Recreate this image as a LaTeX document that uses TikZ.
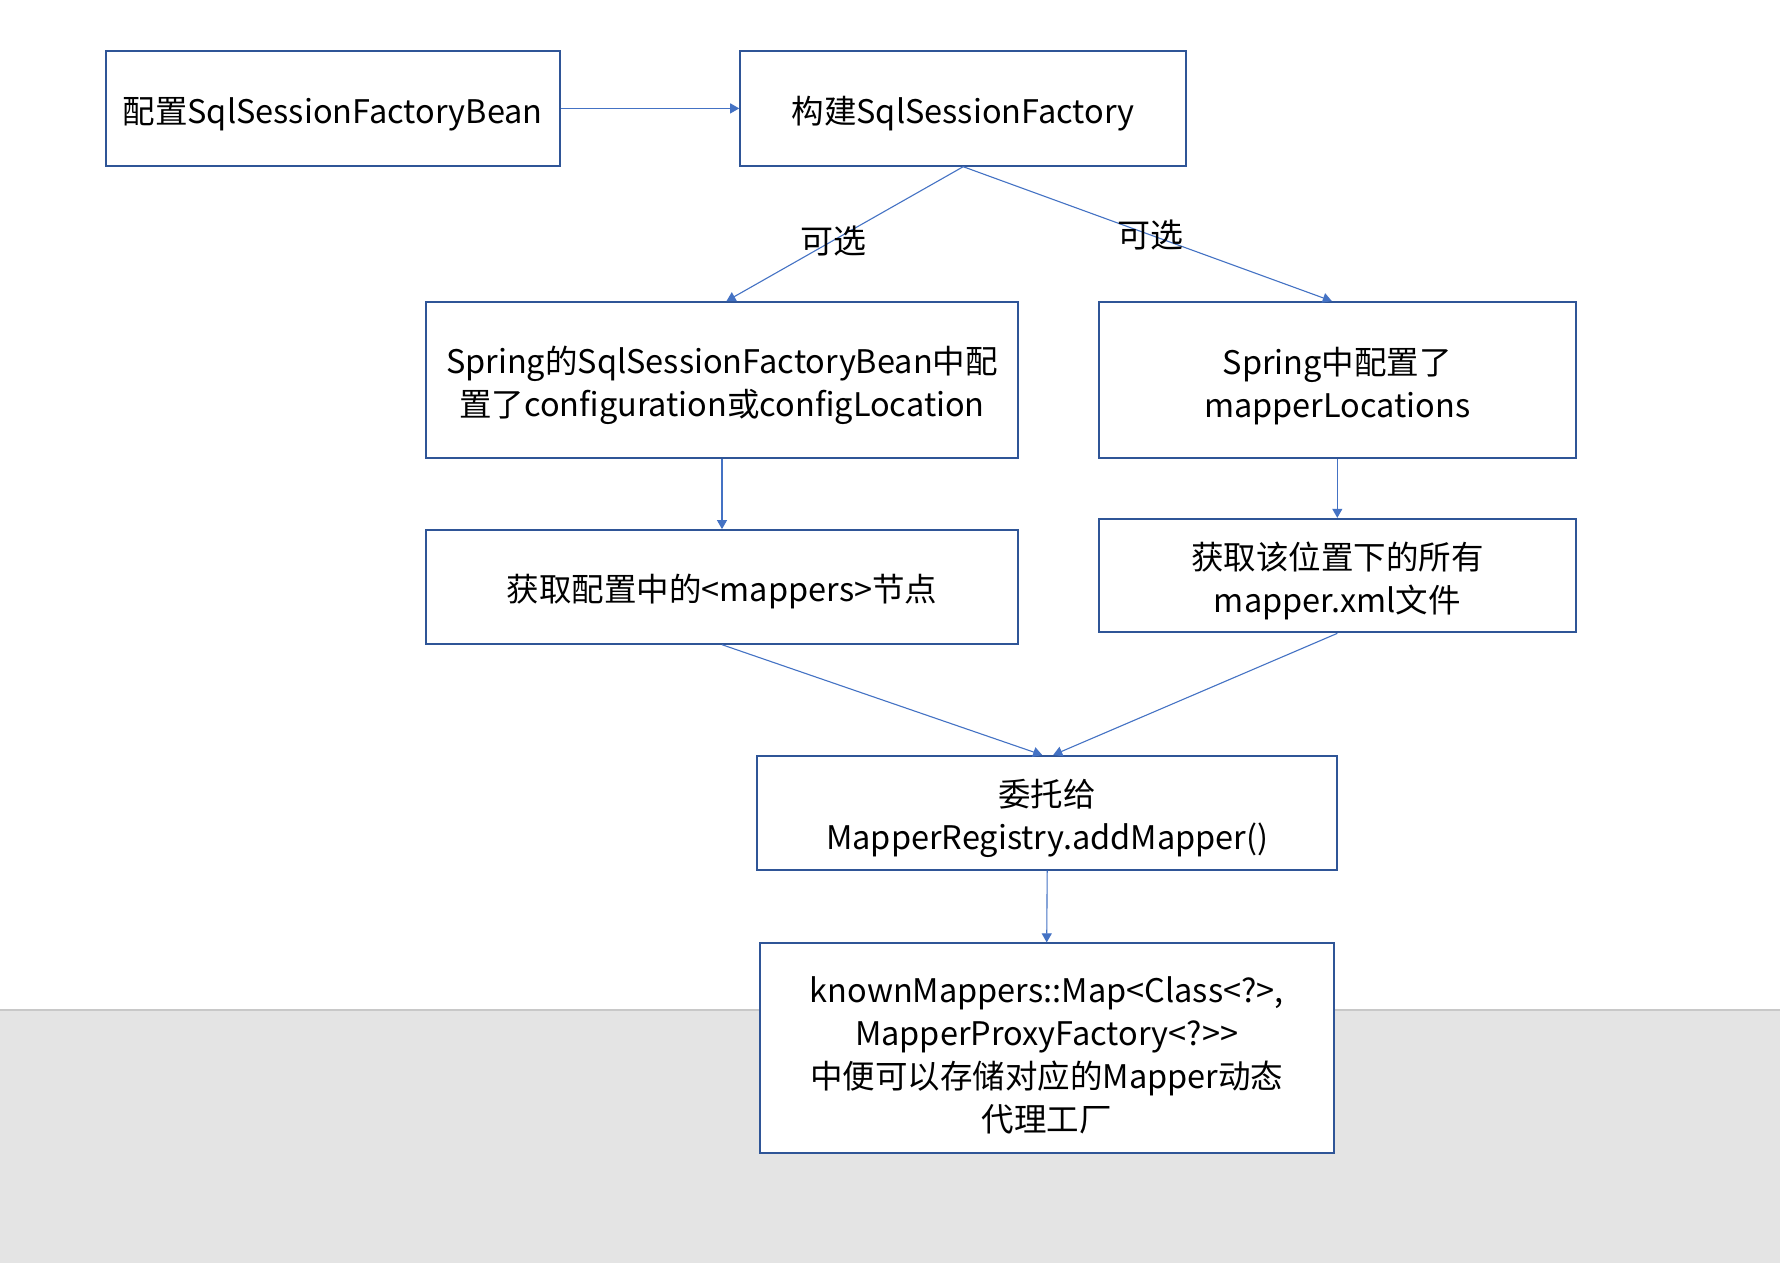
\documentclass[tikz,border=0pt]{standalone}
\usepackage{fontspec}
\setmainfont{Noto Sans CJK SC}
\usetikzlibrary{arrows.meta}
\definecolor{boxblue}{HTML}{2F5597}
\definecolor{lineblue}{HTML}{4472C4}
\definecolor{graybg}{HTML}{E4E4E4}
\definecolor{grayline}{HTML}{C8C8C8}
\newcommand{\firststrut}{\rule{0pt}{39pt}}
\tikzset{
  x=1pt, y=-1pt,
  box/.style={draw=boxblue, line width=2pt, fill=white, align=center, inner sep=0pt,
    font=\fontsize{32.5}{43}\selectfont, execute at begin node={\rule{0pt}{37pt}}},
  conn/.style={draw=lineblue, line width=1.1pt, -{Triangle[width=10pt,length=9pt]}},
  lbl/.style={font=\fontsize{33}{36}\selectfont, inner sep=0pt}
}
\begin{document}
\begin{tikzpicture}
\useasboundingbox (0,0) rectangle (1780,1263);
\fill[white] (0,0) rectangle (1780,1263);
\fill[graybg] (0,1010) rectangle (1780,1263);
\draw[grayline, line width=1.5pt] (0,1010) -- (1780,1010);

\node[box, minimum width=454, minimum height=114.6] (b1) at (332.6,108.4) {配置SqlSessionFactoryBean};
\node[box, minimum width=446, minimum height=114.6] (b2) at (963.2,108.4) {构建SqlSessionFactory};
\node[box, minimum width=592.6, minimum height=155.5] (b3) at (722,379.8) {\firststrut Spring的SqlSessionFactoryBean中配\\置了configuration或configLocation};
\node[box, minimum width=476.8, minimum height=155.5] (b4) at (1337.3,379.8) {\firststrut Spring中配置了\\mapperLocations};
\node[box, minimum width=592.6, minimum height=113.6] (b5) at (722,586.9) {获取配置中的<mappers>节点};
\node[box, minimum width=476.8, minimum height=113.5] (b6) at (1337.3,575.6) {\firststrut 获取该位置下的所有\\mapper.xml文件};
\node[box, minimum width=580.1, minimum height=113.6] (b7) at (1047.2,812.8) {\firststrut 委托给\\MapperRegistry.addMapper()};
\node[box, minimum width=574.4, minimum height=210] (b8) at (1046.7,1048.4) {\firststrut knownMappers::Map<Class<?>,\\MapperProxyFactory<?>{}>\\中便可以存储对应的Mapper动态\\代理工厂};

\draw[conn] (b1.east) -- (b2.west);
\draw[conn] (b2.south) -- ([xshift=4.5]b3.north);
\draw[conn] (b2.south) -- ([xshift=-5.5]b4.north);
\draw[conn] (b3.south) -- (b5.north);
\draw[conn] (b4.south) -- (b6.north);
\draw[conn] (b5.south) -- ([xshift=-5]b7.north);
\draw[conn] (b6.south) -- ([xshift=6]b7.north);
\draw[conn] (b7.south) -- (b8.north);

\node[lbl] (l1) at (833,241) {可选};
\node[lbl] (l2) at (1150,235) {可选};
\end{tikzpicture}
\end{document}
